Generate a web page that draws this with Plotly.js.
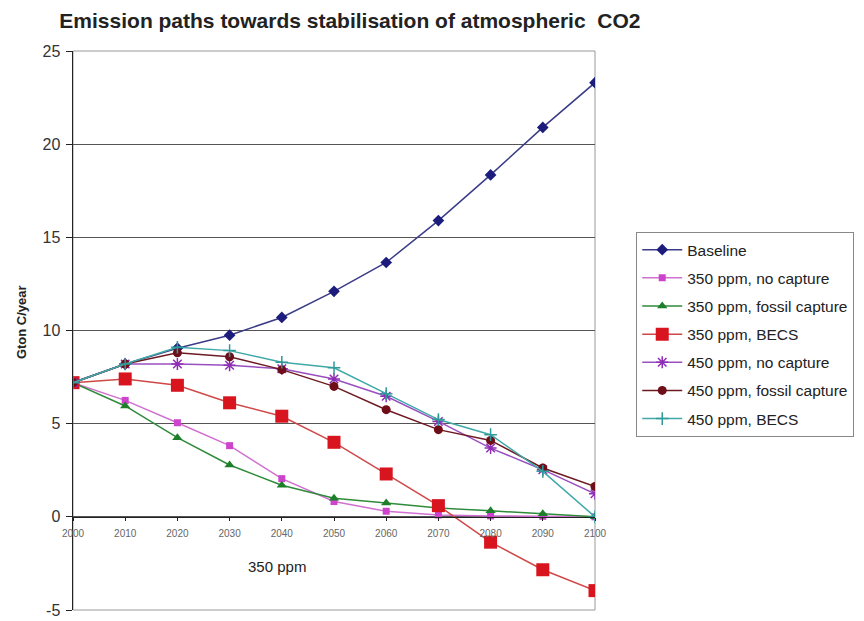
<!DOCTYPE html>
<html>
<head>
<meta charset="utf-8">
<script src="https://cdn.plot.ly/plotly-3.0.1.min.js"></script>
<style>html,body{margin:0;padding:0;background:#fff;}#chart{width:864px;height:621px;}</style>
</head>
<body>
<div id="chart"></div>
<script>
const years = [2000, 2010, 2020, 2030, 2040, 2050, 2060, 2070, 2080, 2090, 2100];
const seriesNames = ["Baseline", "350 ppm, no capture", "350 ppm, fossil capture", "350 ppm, BECS",
  "450 ppm, no capture", "450 ppm, fossil capture", "450 ppm, BECS"];
const baseline      = [7.2, 8.2, 9.05, 9.75, 10.7, 12.1, 13.65, 15.9, 18.35, 20.9, 23.3];
const ppm350NoCap   = [7.2, 6.25, 5.05, 3.82, 2.05, 0.82, 0.3, 0.1, 0.05, 0.03, 0.0];
const ppm350Fossil  = [7.2, 5.95, 4.25, 2.78, 1.7, 1.0, 0.74, 0.48, 0.32, 0.16, 0.0];
const ppm350BECS    = [7.2, 7.4, 7.06, 6.12, 5.4, 4.0, 2.3, 0.6, -1.36, -2.84, -3.96];
const ppm450NoCap   = [7.2, 8.2, 8.2, 8.13, 7.95, 7.4, 6.47, 5.12, 3.69, 2.53, 1.24];
const ppm450Fossil  = [7.2, 8.2, 8.8, 8.59, 7.9, 7.0, 5.75, 4.68, 4.1, 2.62, 1.63];
const ppm450BECS    = [7.2, 8.2, 9.1, 8.92, 8.3, 8.0, 6.61, 5.22, 4.41, 2.44, 0.0];
const yTicks = [-5, 0, 5, 10, 15, 20, 25];
const xTicks = [2000, 2010, 2020, 2030, 2040, 2050, 2060, 2070, 2080, 2090, 2100];

const values = [baseline, ppm350NoCap, ppm350Fossil, ppm350BECS, ppm450NoCap, ppm450Fossil, ppm450BECS];
const styles = [
  {line: '#3B3B88', mc: '#1C1C7C', sym: 'diamond', size: 9},
  {line: '#D070D0', mc: '#CC44CC', sym: 'square', size: 7},
  {line: '#2E8B3A', mc: '#1E7F2A', sym: 'triangle-up', size: 9},
  {line: '#D04848', mc: '#D8141E', sym: 'square', size: 13},
  {line: '#9A4FC0', mc: '#8E2DB5', sym: 'asterisk-open', size: 10},
  {line: '#6E1A22', mc: '#6E0E18', sym: 'circle', size: 9},
  {line: '#40A8A8', mc: '#2E9A9A', sym: 'cross-thin-open', size: 9}
];

const traces = values.map((v, i) => {
  const s = styles[i];
  const open = s.sym.indexOf('open') >= 0;
  return {
    x: years, y: v, name: seriesNames[i], type: 'scatter', mode: 'lines+markers',
    legendgroup: 'g' + i,
    line: {color: s.line, width: 1.5},
    marker: {symbol: s.sym, size: s.size, color: s.mc,
      line: {color: s.mc, width: open ? 1.5 : 0}}
  };
});

const font = "Arial, 'Liberation Sans', sans-serif";
const layout = {
  width: 864, height: 621,
  paper_bgcolor: '#fff', plot_bgcolor: '#fff',
  margin: {l: 73, r: 269, t: 51, b: 11, autoexpand: false},
  title: {text: '<b>Emission paths towards stabilisation of atmospheric  CO2</b>',
    font: {family: font, size: 21, color: '#222'},
    xref: 'container', yref: 'container', x: 0.405, xanchor: 'center', y: 0.966, yanchor: 'middle'},
  xaxis: {range: [2000, 2100], tickvals: xTicks, ticktext: xTicks.map(String),
    anchor: 'free', position: 1/6, showgrid: false, zeroline: false,
    showline: true, linecolor: '#222', linewidth: 1.5,
    ticks: 'outside', ticklen: 3, tickcolor: '#222', ticklabelstandoff: 4,
    tickfont: {family: font, size: 10, color: '#666'}},
  yaxis: {range: [-5, 25], tickvals: yTicks, ticktext: yTicks.map(String),
    showgrid: true, gridcolor: '#555', gridwidth: 1.2, zeroline: false,
    showline: true, linecolor: '#222', linewidth: 1.5,
    ticks: 'outside', ticklen: 6, tickcolor: '#222', ticklabelstandoff: 2,
    tickfont: {family: font, size: 16, color: '#333'}},
  showlegend: true,
  legend: {x: 1.079, xanchor: 'left', y: 0.676, yanchor: 'top',
    bordercolor: '#888', borderwidth: 1, bgcolor: '#fff',
    font: {family: font, size: 15.5, color: '#222'}, itemwidth: 40,
    tracegroupgap: 5, traceorder: 'grouped'},
  shapes: [{type: 'rect', xref: 'paper', yref: 'paper', x0: 0, x1: 1, y0: 0, y1: 1,
    line: {color: '#999', width: 1}, layer: 'below'}],
  annotations: [
    {text: '350 ppm', x: 2039, y: -2.68, xref: 'x', yref: 'y', showarrow: false,
      font: {family: font, size: 15, color: '#222'}},
    {text: '<b>Gton C/year</b>', xref: 'paper', yref: 'paper', x: -0.0996, y: 0.515,
      xanchor: 'center', yanchor: 'middle',
      textangle: -90, showarrow: false, font: {family: font, size: 13, color: '#222'}}
  ]
};
Plotly.newPlot('chart', traces, layout, {displayModeBar: false, staticPlot: true});
</script>
</body>
</html>
